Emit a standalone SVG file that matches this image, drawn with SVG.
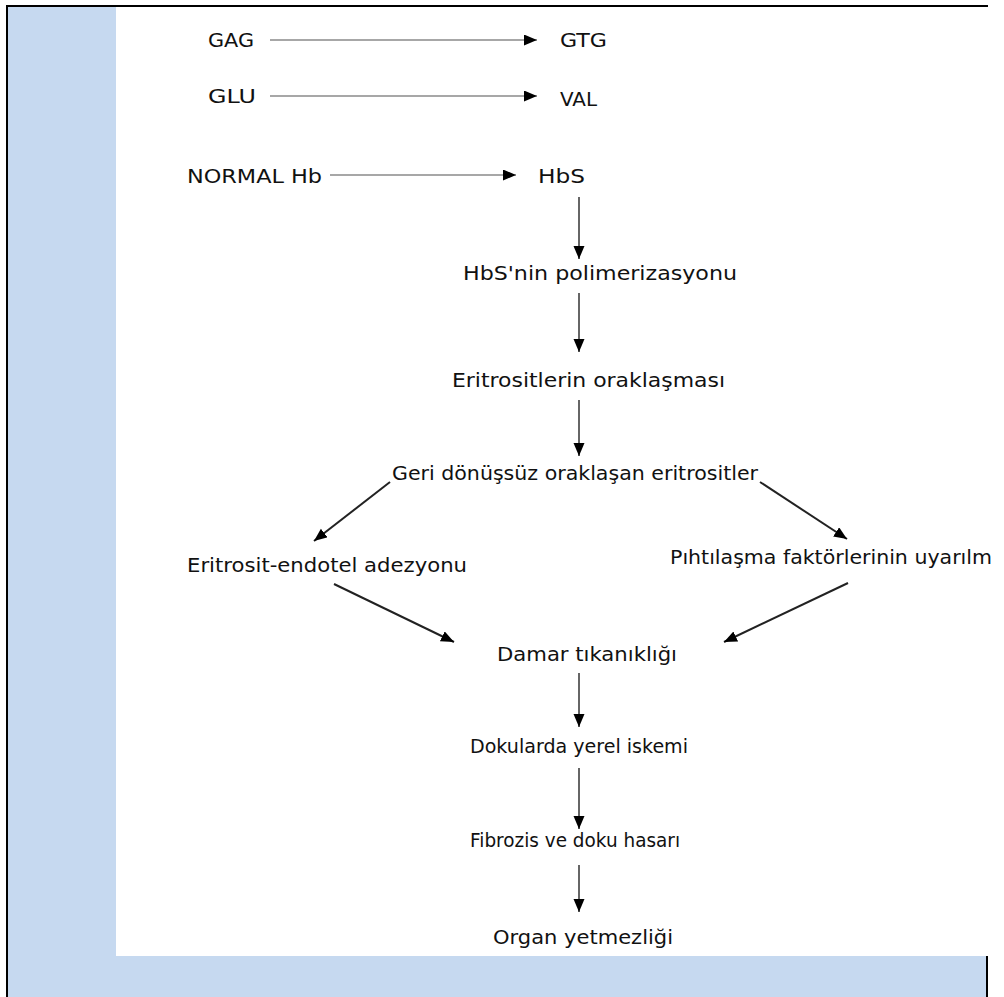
<svg xmlns="http://www.w3.org/2000/svg" width="1004" height="997" viewBox="0 0 1004 997">
<style>
.t{font-family:"DejaVu Sans","Liberation Sans",sans-serif;font-size:20px;fill:#111;}
.g{stroke:#8a8a8a;stroke-width:1.5;fill:none;}
.k{stroke:#333;stroke-width:1.5;fill:none;}
.d{stroke:#222;stroke-width:2;fill:none;}
</style>
<defs>
<marker id="ah" markerUnits="userSpaceOnUse" markerWidth="14" markerHeight="12" refX="13" refY="5.5" orient="auto">
<path d="M0,0 L13,5.5 L0,11 z" fill="#000"/>
</marker>
</defs>
<rect width="1004" height="997" fill="#fff"/>
<g id="frame">
<rect x="8" y="7" width="108" height="990" fill="#c6d9f0"/>
<rect x="8" y="956" width="979" height="41" fill="#c6d9f0"/>
<line x1="6" y1="6" x2="988" y2="6" stroke="#000" stroke-width="2"/>
<line x1="7" y1="5" x2="7" y2="997" stroke="#000" stroke-width="2"/>
<line x1="987" y1="956" x2="987" y2="997" stroke="#000" stroke-width="2"/>
</g>
<g id="connectors">
<line class="g" x1="270" y1="40" x2="537" y2="40" marker-end="url(#ah)"/>
<line class="g" x1="270" y1="96" x2="537" y2="96" marker-end="url(#ah)"/>
<line class="g" x1="330" y1="175" x2="516" y2="175" marker-end="url(#ah)"/>
<line class="k" x1="579" y1="197" x2="579" y2="259" marker-end="url(#ah)"/>
<line class="k" x1="579" y1="293" x2="579" y2="352" marker-end="url(#ah)"/>
<line class="k" x1="579" y1="400" x2="579" y2="456" marker-end="url(#ah)"/>
<line class="d" x1="390" y1="482" x2="314" y2="541" marker-end="url(#ah)"/>
<line class="d" x1="760" y1="482" x2="847" y2="539" marker-end="url(#ah)"/>
<line class="d" x1="334" y1="584" x2="454" y2="642" marker-end="url(#ah)"/>
<line class="d" x1="848" y1="583" x2="724" y2="642" marker-end="url(#ah)"/>
<line class="k" x1="579" y1="673" x2="579" y2="727" marker-end="url(#ah)"/>
<line class="k" x1="579" y1="768" x2="579" y2="829" marker-end="url(#ah)"/>
<line class="k" x1="579" y1="865" x2="579" y2="912" marker-end="url(#ah)"/>
</g>
<g id="n-gag"><text class="t" x="208" y="47" textLength="46" lengthAdjust="spacingAndGlyphs">GAG</text></g>
<g id="n-gtg"><text class="t" x="560" y="47" textLength="47" lengthAdjust="spacingAndGlyphs">GTG</text></g>
<g id="n-glu"><text class="t" x="208" y="103" textLength="48" lengthAdjust="spacingAndGlyphs">GLU</text></g>
<g id="n-val"><text class="t" x="560" y="106" textLength="37" lengthAdjust="spacingAndGlyphs">VAL</text></g>
<g id="n-normal"><text class="t" x="187" y="183" textLength="135" lengthAdjust="spacingAndGlyphs">NORMAL Hb</text></g>
<g id="n-hbs"><text class="t" x="538" y="183" textLength="47" lengthAdjust="spacingAndGlyphs">HbS</text></g>
<g id="n-polim"><text class="t" x="463" y="280" textLength="274" lengthAdjust="spacingAndGlyphs">HbS'nin polimerizasyonu</text></g>
<g id="n-orak"><text class="t" x="452" y="387" textLength="273" lengthAdjust="spacingAndGlyphs">Eritrositlerin oraklaşması</text></g>
<g id="n-geri"><text class="t" x="392" y="480" textLength="366" lengthAdjust="spacingAndGlyphs">Geri dönüşsüz oraklaşan eritrositler</text></g>
<g id="n-adez"><text class="t" x="187" y="572" textLength="280" lengthAdjust="spacingAndGlyphs">Eritrosit-endotel adezyonu</text></g>
<g id="n-piht"><text class="t" x="670" y="564" textLength="322" lengthAdjust="spacingAndGlyphs">Pıhtılaşma faktörlerinin uyarılm</text></g>
<g id="n-damar"><text class="t" x="497" y="661" textLength="180" lengthAdjust="spacingAndGlyphs">Damar tıkanıklığı</text></g>
<g id="n-doku"><text class="t" x="470" y="753" textLength="218" lengthAdjust="spacingAndGlyphs">Dokularda yerel iskemi</text></g>
<g id="n-fibro"><text class="t" x="470" y="847" textLength="210" lengthAdjust="spacingAndGlyphs">Fibrozis ve doku hasarı</text></g>
<g id="n-organ"><text class="t" x="493" y="944" textLength="180" lengthAdjust="spacingAndGlyphs">Organ yetmezliği</text></g>
</svg>
